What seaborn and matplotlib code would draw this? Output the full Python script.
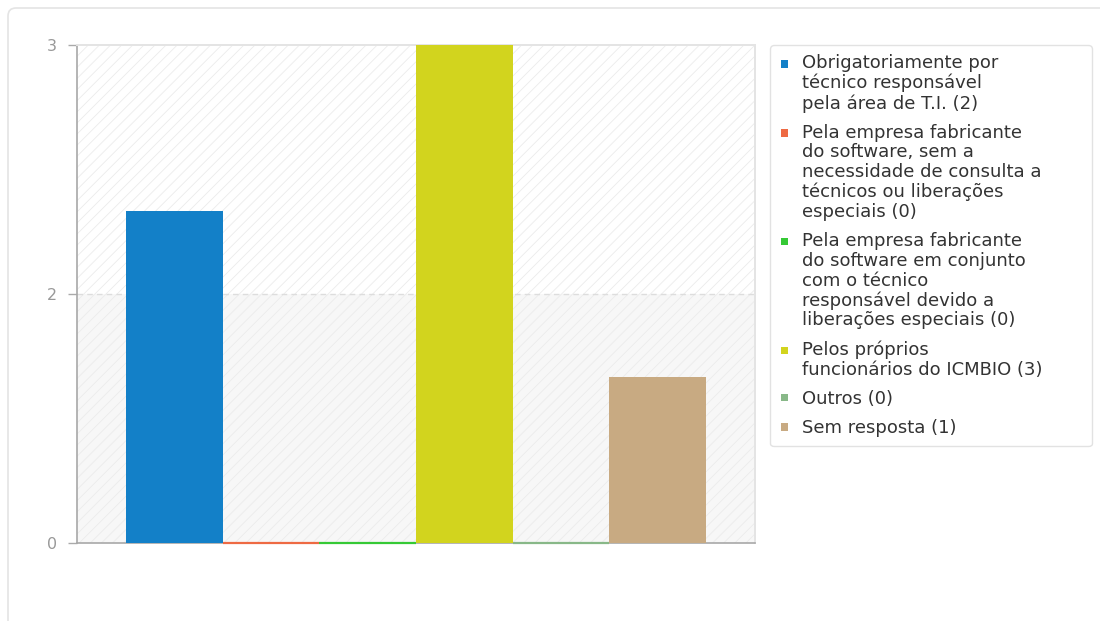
import pandas as pd
import numpy as np
import matplotlib.pyplot as plt
import seaborn as sns
from matplotlib.patches import Rectangle, FancyBboxPatch
from matplotlib.legend_handler import HandlerPatch
from matplotlib.transforms import IdentityTransform

# Dados do gráfico
respostas = [
    "Obrigatoriamente por\ntécnico responsável\npela área de T.I. (2)",
    "Pela empresa fabricante\ndo software, sem a\nnecessidade de consulta a\ntécnicos ou liberações\nespeciais (0)",
    "Pela empresa fabricante\ndo software em conjunto\ncom o técnico\nresponsável devido a\nliberações especiais (0)",
    "Pelos próprios\nfuncionários do ICMBIO (3)",
    "Outros (0)",
    "Sem resposta (1)",
]
valores = [2, 0, 0, 3, 0, 1]
cores = ["#1380C8", "#EE6A43", "#35C935", "#D2D41E", "#88B888", "#C8AA82"]

# ticks do eixo y (rótulos arredondados como no original)
yticks = [0, 1.5, 3]
ytick_labels = ["0", "2", "3"]

df = pd.DataFrame({"grupo": [""] * len(respostas), "resposta": respostas, "valor": valores})

sns.set_theme(style="white")
plt.rcParams["font.family"] = ["DejaVu Sans"]
plt.rcParams["hatch.linewidth"] = 0.6

fig = plt.figure(figsize=(11, 6.21), dpi=100)
ax = fig.add_axes([77 / 1100, 1 - 543 / 621, (755 - 77) / 1100, (543 - 45) / 621])

# cartão externo
card = FancyBboxPatch((8, -30), 1200, 621 - 8 + 30, boxstyle="round,pad=0,rounding_size=8",
                      transform=IdentityTransform(), facecolor="white", edgecolor="#e4e4e4",
                      linewidth=1.2, zorder=-10)
fig.patches.append(card)

sns.barplot(data=df, x="grupo", y="valor", hue="resposta", palette=cores,
            width=0.855, dodge=True, legend=False, ax=ax, saturation=1)

for cont in ax.containers:
    for p in cont:
        p.set_zorder(3)
        p.set_clip_on(False)
        if p.get_height() == 0:
            p.set_edgecolor(p.get_facecolor())
            p.set_linewidth(1.6)
        else:
            p.set_linewidth(0)

# fundo: metade de baixo levemente cinza + hachura diagonal
ax.set_facecolor("white")
ax.axhspan(0, 1.5, color="#f7f7f7", zorder=0.2, linewidth=0)
ax.add_patch(Rectangle((0, 0), 1, 1, transform=ax.transAxes, facecolor="none",
                       edgecolor="#ebebeb", hatch="///", linewidth=0, zorder=0.6))

ax.set_ylim(0, 3)
ax.set_xlim(-0.5, 0.5)
ax.set_yticks(yticks)
ax.set_yticklabels(ytick_labels)
ax.set_xticks([])
ax.set_xlabel("")
ax.set_ylabel("")
ax.tick_params(axis="y", length=6.5, width=1, color="#aaaaaa", labelcolor="#999999",
               labelsize=11.5, pad=8, left=True)
ax.axhline(1.5, color="#dddddd", linestyle=(0, (4, 3)), linewidth=1.0, zorder=1)

for side in ["left", "bottom"]:
    ax.spines[side].set_color("#a8a8a8")
    ax.spines[side].set_linewidth(1.2)
for side in ["top", "right"]:
    ax.spines[side].set_color("#e4e4e4")
    ax.spines[side].set_linewidth(1.4)


class TopHandler(HandlerPatch):
    def __init__(self, shift):
        super().__init__()
        self.shift = shift

    def create_artists(self, legend, orig_handle, xdescent, ydescent, width, height, fontsize, trans):
        s = 0.4 * fontsize
        r = Rectangle((-xdescent + (width - s) / 2, -ydescent + (height - s) / 2 + self.shift), s, s,
                      facecolor=orig_handle.get_facecolor(), linewidth=0, transform=trans)
        return [r]


passo = 14.4  # altura de linha em pontos
handles = [Rectangle((0, 0), 1, 1, facecolor=c) for c in cores]
hmap = {h: TopHandler((lab.count("\n")) / 2 * passo) for h, lab in zip(handles, respostas)}

leg = fig.legend(handles, respostas, handler_map=hmap, loc="upper left",
                 bbox_to_anchor=(770 / 1100, 0.3, (1092 - 770) / 1100, 1 - 45 / 621 - 0.3),
                 bbox_transform=fig.transFigure, mode="expand", borderaxespad=0, fontsize=13,
                 handlelength=0.6, handletextpad=0.7, borderpad=0.5, labelspacing=0.62,
                 frameon=True, fancybox=True, edgecolor="#e2e2e2", framealpha=1,
                 labelcolor="#333333")
leg.get_frame().set_linewidth(1.0)
for t in leg.get_texts():
    t.set_linespacing(1.12)

fig.savefig("out.png", dpi=100)
